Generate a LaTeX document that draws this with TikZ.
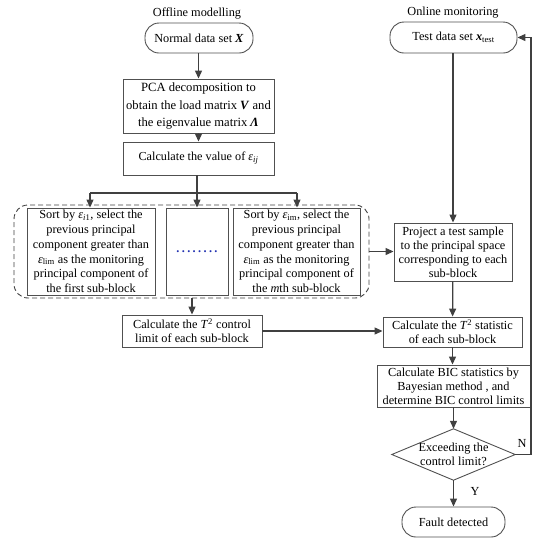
\documentclass[tikz,border=0pt]{standalone}
\usepackage{fontspec}
\setmainfont{Liberation Serif}
\usetikzlibrary{arrows.meta}
\definecolor{ln}{HTML}{404040}
\definecolor{bd}{HTML}{505050}
\definecolor{dotc}{HTML}{2030B0}
\newcommand{\eps}{\textit{ε}}
\begin{document}
\begin{tikzpicture}[x=1pt,y=-1pt,
  every node/.style={font=\fontsize{12.3}{14}\selectfont, align=center, inner sep=0pt},
  box/.style={draw=bd, line width=0.9pt, minimum width=#1},
  term/.style={draw=bd, line width=0.9pt, rounded corners=14pt, minimum height=30pt},
  arr/.style={draw=ln, line width=1.2pt, -{Triangle[length=8pt,width=7pt]}},
  ln/.style={draw=ln, line width=1.2pt}
]
\useasboundingbox (0,0) rectangle (554,542);
\node (t1) at (197,13) {Offline modelling};
\node (t2) at (453,13) {Online monitoring};
\node[term, minimum width=108pt] (n1) at (199,38) {Normal data set \textbf{\textit{X}}};
\node[box=151pt, minimum height=54pt, font=\fontsize{12.6}{17.5}\selectfont] (pca) at (198.5,106) {PCA decomposition to\\obtain the load matrix \textbf{\textit{V}} and\\the eigenvalue matrix \textbf{\textit{Λ}}};
\node[box=151pt, minimum height=33pt, font=\fontsize{12.2}{14}\selectfont] (eps) at (198.5,158.5) {Calculate the value of \eps\textsubscript{\textit{ij}}};
\node[box=128pt, minimum height=87pt, font=\fontsize{12.3}{14.8}\selectfont] (b1) at (91,251.5) {Sort by \eps\textsubscript{\textit{i}1}, select the\\previous principal\\component greater than\\\eps\textsubscript{lim} as the monitoring\\principal component of\\the first sub-block};
\node[box=62pt, minimum height=87pt, text=dotc, font=\bfseries\fontsize{12.3}{14}\selectfont] (b2) at (197,251.5) {\hbox to 44pt{\xleaders\hbox to 4.9pt{\hss.\hss}\hfill}};
\node[box=127pt, minimum height=87pt, font=\fontsize{12.3}{14.8}\selectfont] (b3) at (296.5,251.5) {Sort by \eps\textsubscript{im}, select the\\previous principal\\component greater than\\\eps\textsubscript{lim} as the monitoring\\principal component of\\the \textit{m}th sub-block};
\node[draw=ln, dashed, dash pattern=on 5pt off 3pt, line width=0.9pt, rounded corners=14pt, minimum width=355pt, minimum height=93pt] (grp) at (191.5,251.5) {};
\node[box=140pt, minimum height=32pt] (lim) at (192,331) {Calculate the \textit{T}\textsuperscript{2} control\\limit of each sub-block};
\node[term, minimum width=127pt, minimum height=31pt] (test) at (453.5,37.5) {Test data set \textbf{\textit{x}}\textsubscript{test}};
\node[box=118pt, minimum height=58pt] (proj) at (453,252) {Project a test sample\\to the principal space\\corresponding to each\\sub-block};
\node[box=139pt, minimum height=30pt] (stat) at (452.5,332) {Calculate the \textit{T}\textsuperscript{2} statistic\\of each sub-block};
\node[box=153pt, minimum height=42pt] (bic) at (453.5,386) {Calculate BIC statistics by\\Bayesian method , and\\determine BIC control limits};
\node[minimum width=123pt, minimum height=51pt] (dia) at (453.5,454.5) {Exceeding the\\control limit?};
\draw[draw=bd, line width=0.9pt] (dia.north) -- (dia.east) -- (dia.south) -- (dia.west) -- cycle;
\node[term, minimum width=103pt] (fault) at (453.5,522) {Fault detected};
\coordinate (sp) at (197,193);
\coordinate (spl) at (90,193);
\coordinate (spr) at (297,193);
\coordinate (fb1) at (531,454.5);
\coordinate (fb2) at (531,37.5);
\draw[ln] (eps.south -| sp) -- (sp);
\draw[ln] (spl) -- (spr);
\draw[arr] (spl) -- (spl |- b1.north);
\draw[arr] (sp) -- (b2.north);
\draw[arr] (spr) -- (spr |- b3.north);
\draw[arr] (n1.south -| pca.north) -- (pca.north);
\draw[arr] (pca) -- (eps);
\draw[arr] (lim.north |- grp.south) -- (lim.north);
\draw[arr] (lim.east) -- (lim.east -| stat.west);
\draw[arr] (grp.east) -- (grp.east -| proj.west);
\draw[arr] (test.south -| proj.north) -- (proj.north);
\draw[arr] (proj) -- (stat);
\draw[arr] (stat) -- (stat.south |- bic.north);
\draw[arr] (bic) -- (dia.north);
\draw[arr] (dia.south) -- (fault);
\node (y) at (475,491) {Y};
\draw[arr] (dia.east) -- (fb1) -- (fb2) -- (test.east);
\node (nl) at (522,443) {N};
\end{tikzpicture}
\end{document}
